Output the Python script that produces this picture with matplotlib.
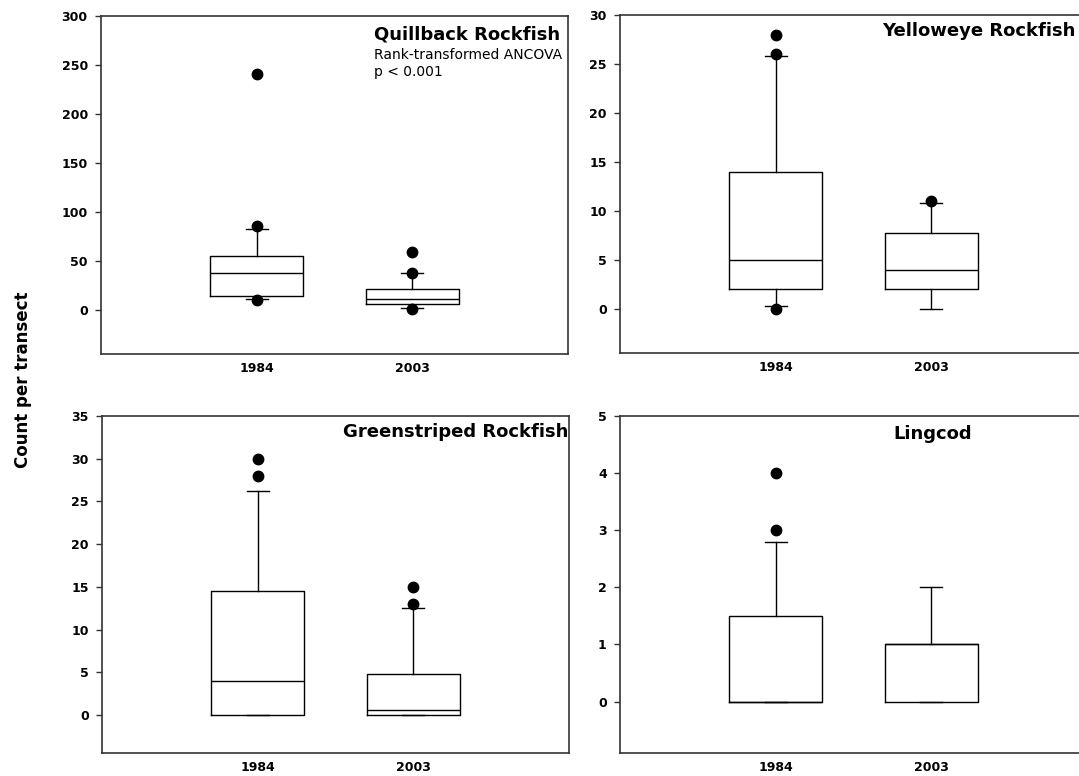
import matplotlib
matplotlib.use("Agg")
import matplotlib.pyplot as plt

# box-plot summaries per species, one entry per survey year
species = ["Quillback Rockfish", "Yelloweye Rockfish", "Greenstriped Rockfish", "Lingcod"]
years = ["1984", "2003"]
q1 = [[14.6, 5.8], [2.0, 2.0], [0.0, 0.0], [0.0, 0.0]]
median = [[38.0, 11.6], [5.0, 4.0], [4.0, 0.55], [0.0, 1.0]]
q3 = [[55.4, 21.4], [14.0, 7.75], [14.5, 4.75], [1.5, 1.0]]
whisker_lo = [[11.0, 2.0], [0.25, 0.0], [0.0, 0.0], [0.0, 0.0]]
whisker_hi = [[83.0, 38.0], [25.8, 10.8], [26.2, 12.5], [2.8, 2.0]]
outliers = [
    [[10, 86, 241], [0.7, 38, 59]],
    [[0, 26, 28], [11]],
    [[28, 30], [13, 15]],
    [[3, 4], []],
]
y_limits = [(-45, 300), (-4.5, 30), (-4.45, 35), (-0.9, 5)]
y_steps = [50, 5, 5, 1]

W, H = 1079, 776
fig = plt.figure(figsize=(W / 100, H / 100), dpi=100)


def px(x, y):
    return x / W, 1 - y / H


# axes boxes in pixels: left, top, right, bottom
boxes = [(101, 16, 568, 354), (620, 15, 1087, 353),
         (102, 416, 569, 753), (620, 416, 1087, 753)]
# title anchors: x, baseline y, alignment
title_pos = [(374, 39, "left"), (1076, 36, "right"),
             (343, 437, "left"), (893, 439, "left")]

for i, (l, t, r, b) in enumerate(boxes):
    x0, y0 = px(l, b)
    ax = fig.add_axes([x0, y0, (r - l) / W, (b - t) / H])
    stats = []
    for j, yr in enumerate(years):
        stats.append(dict(label=yr, q1=q1[i][j], med=median[i][j], q3=q3[i][j],
                          whislo=whisker_lo[i][j], whishi=whisker_hi[i][j],
                          fliers=outliers[i][j]))
    ax.bxp(stats, positions=[1, 2], widths=0.6, capwidths=0.14,
           boxprops=dict(color="black", lw=1.0),
           medianprops=dict(color="black", lw=1.0),
           whiskerprops=dict(color="black", lw=1.0),
           capprops=dict(color="black", lw=1.0),
           flierprops=dict(marker="o", markerfacecolor="black",
                           markeredgecolor="black", markersize=7.5))
    ax.set_xlim(0, 3)
    lo, hi = y_limits[i]
    ax.set_ylim(lo, hi)
    step = y_steps[i]
    ax.set_yticks([k * step for k in range(int(hi / step) + 1)])
    ax.tick_params(axis="y", direction="out", length=4.5, width=1, pad=5,
                   labelsize=9, color="#333333")
    ax.tick_params(axis="x", length=0, pad=6, labelsize=9)
    for lab in ax.get_xticklabels() + ax.get_yticklabels():
        lab.set_fontweight("bold")
    for sp in ax.spines.values():
        sp.set_color("#333333")
        sp.set_linewidth(1.2)

    tx, ty, align = title_pos[i]
    fig.text(*px(tx, ty), species[i], fontsize=13, fontweight="bold",
             ha=align, va="baseline")

# statistics note under the quillback title
fig.text(*px(374, 59), "Rank-transformed ANCOVA", fontsize=10,
         ha="left", va="baseline")
fig.text(*px(374, 76), "p < 0.001", fontsize=10, ha="left", va="baseline")

fig.text(*px(23, 380), "Count per transect", fontsize=12, fontweight="bold",
         rotation=90, ha="center", va="center")

fig.savefig("out.png", dpi=100)
